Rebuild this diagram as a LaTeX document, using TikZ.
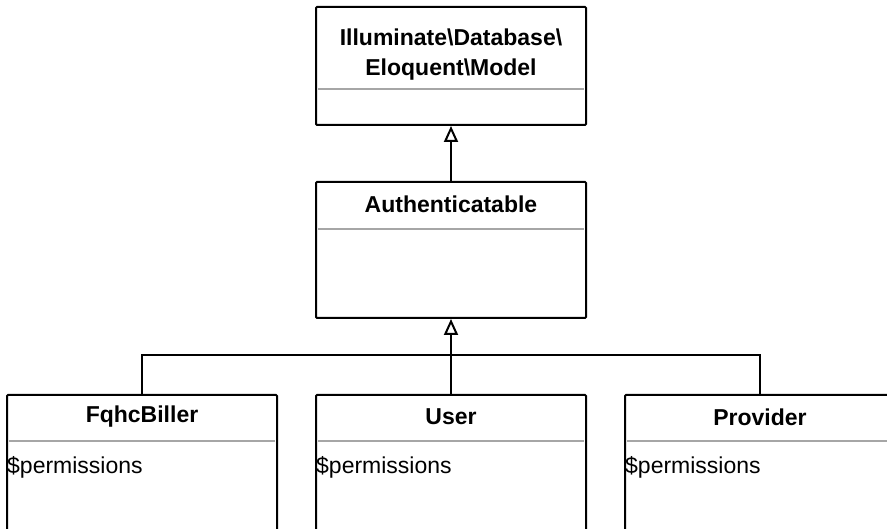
\documentclass[tikz,border=0pt]{standalone}
\usepackage{fontspec}
\setmainfont{Liberation Sans}
\usetikzlibrary{arrows.meta}
\begin{document}
\begin{tikzpicture}[x=1pt,y=-1pt,
  classbox/.style={draw=black, line width=2pt, rectangle, minimum width=270pt, inner sep=0pt, rounded corners=1pt},
  sep/.style={draw=black!35, line width=1.5pt},
  title/.style={font=\fontsize{23}{33}\selectfont\bfseries, align=center, inner sep=0pt},
  attr/.style={font=\fontsize{23}{33}\selectfont, anchor=west, inner sep=0pt},
  conn/.style={draw=black, line width=2pt},
  inh/.style={conn, -{Triangle[open, width=14pt, length=16pt, line width=2pt]}}
]
\clip (0,0) rectangle (887,529);
\fill[white] (0,0) rectangle (887,529);

% boxes
\node[classbox, minimum height=118pt] (model) at (451,66) {};
\node[classbox, minimum height=136pt] (auth) at (451,250) {};
\node[classbox, minimum height=160pt] (fqhc) at (142,475) {};
\node[classbox, minimum height=160pt] (user) at (451,475) {};
\node[classbox, minimum height=160pt] (prov) at (760,475) {};

% titles
\node[title] (modelT1) at (451,37) {Illuminate\textbackslash Database\textbackslash};
\node[title] (modelT2) at (451,70) {Eloquent\textbackslash Model};
\node[title] (authT) at (451,204) {Authenticatable};
\node[title] (fqhcT) at (142,417) {FqhcBiller};
\node[title] (userT) at (451,417) {User};
\node[title] (provT) at (760,417) {Provider};

% separators
\draw[sep] (318,89) -- (584,89);
\draw[sep] (318,229) -- (584,229);
\draw[sep] (9,441) -- (275,441);
\draw[sep] (318,441) -- (584,441);
\draw[sep] (627,441) -- (893,441);

% attributes
\node[attr] (fqhcA) at (7,467) {\$permissions};
\node[attr] (userA) at (316,467) {\$permissions};
\node[attr] (provA) at (625,467) {\$permissions};

% connectors
\draw[inh] (auth.north) -- (model.south);
\draw[inh] (user.north) -- (auth.south);
\coordinate (hl) at (142,355);
\coordinate (hr) at (760,355);
\draw[conn] (fqhc.north) -- (hl) -- (hr) -- (prov.north);
\end{tikzpicture}
\end{document}
